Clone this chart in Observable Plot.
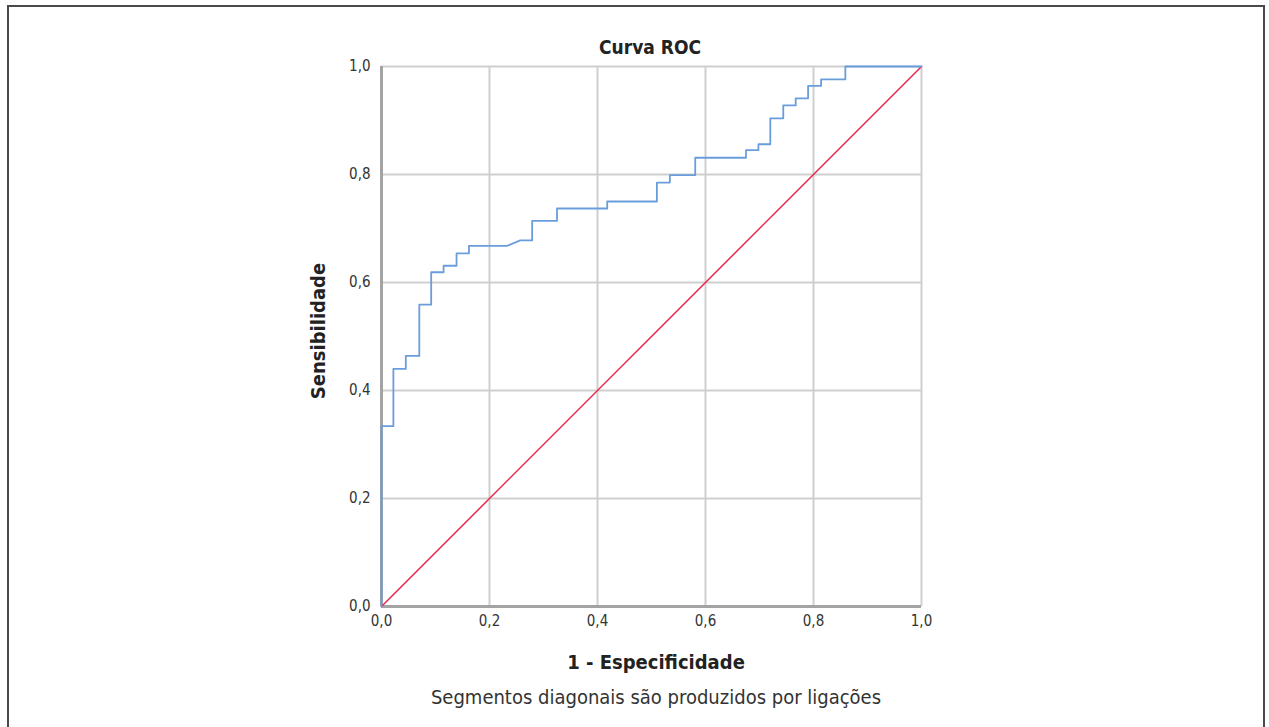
<!DOCTYPE html>
<html>
<head>
<meta charset="utf-8">
<script src="https://cdn.jsdelivr.net/npm/d3@7"></script>
<script src="https://cdn.jsdelivr.net/npm/@observablehq/plot@0.6"></script>
<style>
  html, body { margin: 0; padding: 0; background: #fff; }
  #wrap { position: relative; width: 1269px; height: 727px; overflow: hidden;
    font-family: "Liberation Sans Narrow", "DejaVu Sans Condensed", Roboto, sans-serif; font-stretch: condensed; color: #222; }
  #box { position: absolute; left: 7px; top: 5px; width: 1254px; height: 740px;
    border-top: 2px solid #4a4a4a; border-left: 2px solid #4a4a4a; border-right: 2px solid #4a4a4a; }
  #chart { position: absolute; left: 0; top: 0; }
  .t { position: absolute; white-space: nowrap; transform: translate(-50%, -50%); }
  #title { left: 650px; top: 47px; font-size: 19px; font-weight: bold; }
  #xlab { left: 656px; top: 662px; font-size: 20px; font-weight: bold; }
  #ylab { left: 318px; top: 331px; font-size: 20px; font-weight: bold; transform: translate(-50%, -50%) rotate(-90deg); }
  #cap { left: 656px; top: 697px; font-size: 20px; color: #333; }
</style>
</head>
<body>
<div id="wrap">
  <div id="box"></div>
  <div id="chart"></div>
  <div class="t" id="title">Curva ROC</div>
  <div class="t" id="xlab">1 - Especificidade</div>
  <div class="t" id="ylab">Sensibilidade</div>
  <div class="t" id="cap">Segmentos diagonais são produzidos por ligações</div>
</div>
<script>
// ROC curve vertices (1 - especificidade, sensibilidade)
const fpr = [0, 0, 0.022, 0.022, 0.045, 0.045, 0.070, 0.070, 0.092, 0.092, 0.115, 0.115,
  0.139, 0.139, 0.162, 0.162, 0.233, 0.257, 0.279, 0.279, 0.325, 0.325, 0.418, 0.418,
  0.510, 0.510, 0.534, 0.534, 0.581, 0.581, 0.675, 0.675, 0.698, 0.698, 0.720, 0.720,
  0.744, 0.744, 0.767, 0.767, 0.790, 0.790, 0.814, 0.814, 0.859, 0.859, 1];
const tpr = [0, 0.334, 0.334, 0.440, 0.440, 0.464, 0.464, 0.559, 0.559, 0.619, 0.619, 0.631,
  0.631, 0.654, 0.654, 0.668, 0.668, 0.678, 0.678, 0.714, 0.714, 0.737, 0.737, 0.750,
  0.750, 0.785, 0.785, 0.799, 0.799, 0.831, 0.831, 0.845, 0.845, 0.856, 0.856, 0.904,
  0.904, 0.928, 0.928, 0.941, 0.941, 0.964, 0.964, 0.976, 0.976, 1, 1];
// Reference diagonal
const refX = [0, 1];
const refY = [0, 1];
// Ticks
const ticks = [0, 0.2, 0.4, 0.6, 0.8, 1.0];

const roc = fpr.map((x, i) => ({x, y: tpr[i]}));
const diag = refX.map((x, i) => ({x, y: refY[i]}));
const fmt = d => d3.format(".1f")(d).replace(".", ",");

const chart = Plot.plot({
  width: 1269,
  height: 727,
  marginLeft: 381,
  marginRight: 348,
  marginTop: 66,
  marginBottom: 121,
  style: { fontFamily: '"Liberation Sans Narrow", "DejaVu Sans Condensed", Roboto, sans-serif', fontSize: "15px", color: "#333", background: "transparent" },
  x: { domain: [0, 1], ticks: ticks, tickFormat: fmt, label: null },
  y: { domain: [0, 1], ticks: ticks, tickFormat: fmt, label: null },
  marks: [
    Plot.gridX(ticks, { stroke: "#cfcfcf", strokeWidth: 2, strokeOpacity: 1 }),
    Plot.gridY(ticks, { stroke: "#cfcfcf", strokeWidth: 2, strokeOpacity: 1 }),
    Plot.axisX(ticks, { tickSize: 0, tickPadding: 9, tickFormat: fmt, label: null, fontSize: 15 }),
    Plot.axisY(ticks, { tickSize: 0, tickPadding: 11, tickFormat: fmt, label: null, fontSize: 15 }),
    Plot.ruleX([0], { stroke: "#a3a3a3", strokeWidth: 3 }),
    Plot.ruleY([0], { stroke: "#a3a3a3", strokeWidth: 3 }),
    Plot.line(diag, { x: "x", y: "y", stroke: "#e8284f", strokeWidth: 1.5 }),
    Plot.line(roc, { x: "x", y: "y", stroke: "#6a9ddb", strokeWidth: 1.8 })
  ]
});
document.getElementById("chart").appendChild(chart);
</script>
</body>
</html>
